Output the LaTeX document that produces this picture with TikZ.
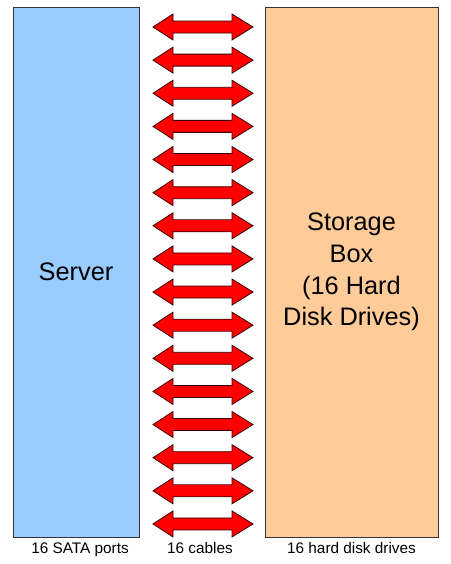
\documentclass[tikz,border=0pt]{standalone}
\usepackage{fontspec}
\setmainfont{Liberation Sans}
\definecolor{serverblue}{HTML}{99CCFF}
\definecolor{boxorange}{HTML}{FFCC99}
\definecolor{cabledark}{HTML}{3A0000}
\tikzset{box/.style={draw=black!80, line width=0.75pt, inner sep=0pt, align=center,
                     font=\fontsize{19}{23.8}\selectfont},
         cable/.style={fill=red, draw=cabledark, line width=0.6pt, line join=miter},
         caption/.style={anchor=base, inner sep=0pt, font=\fontsize{11.5}{14}\selectfont}}

\begin{document}
\begin{tikzpicture}[x=0.75pt,y=-0.75pt]
  \useasboundingbox (0,0) rectangle (450,564);
  % the two boxes
  \node[box, fill=serverblue, minimum width=94.5pt, minimum height=397.5pt] (server) at (76,272) {Server};
  \node[box, fill=boxorange, minimum width=129.75pt, minimum height=397.5pt] (storage) at (351.5,272)
       {Storage\\Box\\(16 Hard\\Disk Drives)};
  % sixteen cables
  \foreach \i [evaluate=\i as \y using 27+33.13*\i] in {0,...,15}
   \draw[cable, shift={(203,\y)}] (-50,0) -- (-30,-13) -- (-30,-6) -- (29,-6) -- (29,-13)
        -- (50,0) -- (29,13) -- (29,6) -- (-30,6) -- (-30,13) -- cycle;
  % captions
  \node[caption] (ports)  at (80,553)    {16 SATA ports};
  \node[caption] (cables) at (200,553)   {16 cables};
  \node[caption] (drives) at (351.5,553) {16 hard disk drives};
\end{tikzpicture}
\end{document}
